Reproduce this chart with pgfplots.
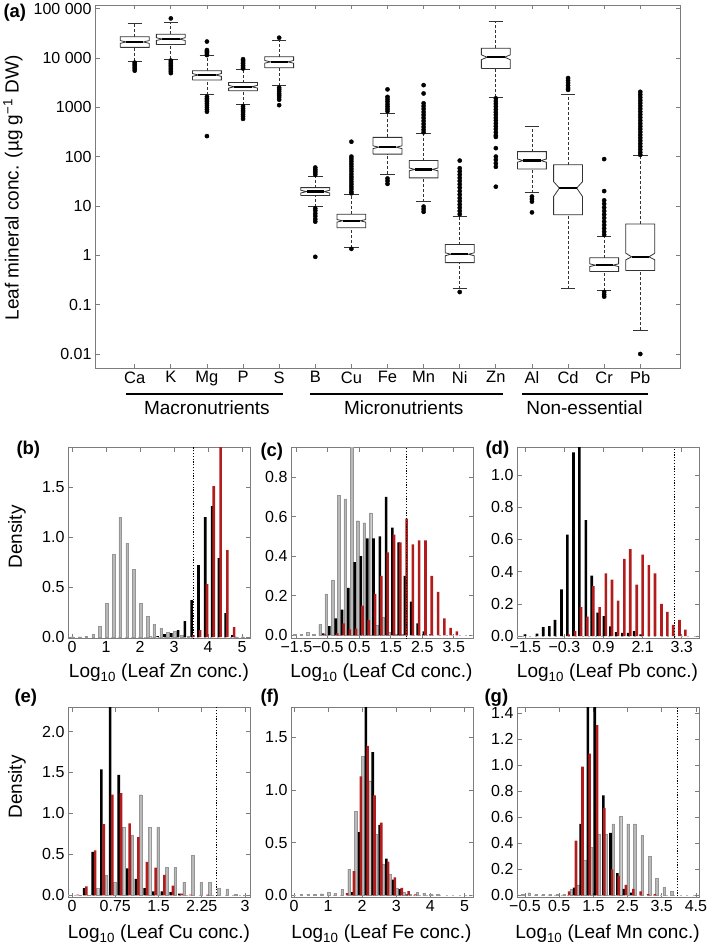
\documentclass[border=0pt]{standalone}
\usepackage{fontspec}
\setmainfont{Liberation Sans}
\usepackage{pgfplots}
\pgfplotsset{compat=1.18}

\definecolor{hgray}{RGB}{185,185,185}
\definecolor{hgrayedge}{RGB}{150,150,150}
\definecolor{hred}{RGB}{178,28,28}
\definecolor{axgray}{RGB}{125,125,125}

\pgfplotsset{
  base/.style={scale only axis, anchor=north west,
    axis line style={draw=axgray, line width=0.7pt},
    tick style={draw=axgray, line width=0.7pt},
    major tick length=4.5pt, tick align=inside,
    ticklabel style={font=\fontsize{16}{18}\selectfont},
    /pgf/number format/assume math mode=true},
  hist/.style={base, width=182pt, height=191pt},
  gbar/.style={ybar, bar width=2.6pt, bar shift=0pt, fill=hgray, draw=hgrayedge, line width=0.2pt},
  kbar/.style={ybar, bar width=2.6pt, bar shift=0pt, fill=black, draw=none},
  rbar/.style={ybar, bar width=2.6pt, bar shift=0pt, fill=hred, draw=none},
  thr/.style={black, line width=0.9pt, dash pattern=on 1.2pt off 1.6pt},
  basel/.style={gray!55, line width=0.6pt, dash pattern=on 2pt off 4.6pt},
  boxline/.style={black!80, line width=0.8pt},
}

% box: x, lower cap, q1, notch low, median, notch high, q3, upper cap
\newcommand{\bx}[8]{%
  \pgfmathsetmacro{\xa}{#1-0.4}\pgfmathsetmacro{\xb}{#1+0.4}%
  \pgfmathsetmacro{\xc}{#1-0.24}\pgfmathsetmacro{\xd}{#1+0.24}%
  \pgfmathsetmacro{\xe}{#1-0.2}\pgfmathsetmacro{\xf}{#1+0.2}%
  \addplot[boxline, dash pattern=on 3pt off 2pt] coordinates {(#1,#7) (#1,#8)};
  \addplot[boxline, dash pattern=on 3pt off 2pt] coordinates {(#1,#2) (#1,#3)};
  \addplot[boxline] coordinates {(\xe,#8) (\xf,#8)};
  \addplot[boxline] coordinates {(\xe,#2) (\xf,#2)};
  \addplot[boxline, fill=white] coordinates {(\xa,#3) (\xb,#3) (\xb,#4) (\xd,#5) (\xb,#6) (\xb,#7) (\xa,#7) (\xa,#6) (\xc,#5) (\xa,#4) (\xa,#3)};
  \addplot[black, line width=2.4pt] coordinates {(\xc,#5) (\xd,#5)};
}

\newcommand{\lab}{\fontsize{19}{21}\selectfont}
\newcommand{\panel}{\fontsize{18.5}{20}\selectfont\bfseries}

\begin{document}
\begin{tikzpicture}
\path[use as bounding box] (0,0) rectangle (709pt,-944pt);

% ---------------- (a) ----------------
\begin{axis}[base, at={(95pt,-5pt)}, width=585pt, height=363pt,
  ymode=log, xmin=-0.1, xmax=16.1, ymin=0.0052, ymax=117800,
  yminorticks=false,
  xtick={1,...,15},
  xticklabels={Ca,K,Mg,P,S,B,Cu,Fe,Mn,Ni,Zn,Al,Cd,Cr,Pb},
  xticklabel style={font=\fontsize{16.5}{18}\selectfont},
  ytick={0.01,0.1,1,10,100,1000,10000,100000},
  yticklabels={0.01,0.1,1,10,100,1000,10 000,100 000}]
\bx{1}{8500}{16300}{19700}{21000}{22400}{26700}{51000}
\bx{2}{9400}{18600}{22500}{24000}{25600}{30000}{53500}
\bx{3}{1780}{3550}{4220}{4500}{4800}{5500}{11000}
\bx{4}{1120}{2150}{2440}{2600}{2770}{3160}{5900}
\bx{5}{2750}{6300}{7800}{8300}{8850}{10500}{23000}
\bx{6}{9.7}{16.2}{18.3}{19.5}{20.8}{23.5}{39}
\bx{7}{1.43}{3.6}{4.7}{5.0}{5.3}{6.8}{17.2}
\bx{8}{44}{112}{145}{155}{165}{245}{760}
\bx{9}{12.2}{37}{51.5}{55}{58.7}{83}{295}
\bx{10}{0.21}{0.71}{0.98}{1.05}{1.12}{1.65}{6.0}
\bx{11}{1590}{6100}{9200}{10300}{11500}{15600}{54000}
\bx{12}{18.7}{56}{77}{83}{89}{126}{400}
\bx{13}{0.21}{6.6}{15.5}{23}{31}{68}{1820}
\bx{14}{0.19}{0.47}{0.59}{0.63}{0.67}{0.89}{2.4}
\bx{15}{0.030}{0.49}{0.81}{0.93}{1.1}{4.3}{105}
\addplot[only marks, mark=*, mark size=2.1pt, black] coordinates {
 (1,5500)(1,6000)(1,6500)(1,7000)(1,7500)(1,8000)
 (2,63000)(2,4900)(2,5300)(2,5700)(2,6100)(2,6600)(2,7100)(2,7600)(2,8200)(2,8800)
 (3,21400)(3,14400)(3,13600)(3,12800)(3,12000)(3,11400)
 (3,1630)(3,1500)(3,1400)(3,1300)(3,1200)(3,1100)(3,1000)(3,900)(3,810)(3,260)
 (4,9400)(4,8800)(4,8200)(4,7600)(4,7000)(4,6500)(4,6100)
 (4,1050)(4,950)(4,870)(4,800)(4,720)(4,650)(4,580)
 (5,25600)(5,2500)(5,2300)(5,2100)(5,1900)(5,1750)(5,1600)(5,1420)(5,1100)
 (6,60)(6,55)(6,51)(6,47)(6,43)(6,8.9)(6,8.0)(6,7.0)(6,6.2)(6,5.4)(6,4.8)(6,0.93)
 (7,200)(7,100)(7,90)(7,80)(7,71)(7,63)(7,56)(7,50)(7,44)(7,39)(7,35)(7,31)(7,27.5)(7,24.5)(7,22)(7,19.5)(7,18)(7,1.35)
 (8,2300)(8,1620)(8,1450)(8,1300)(8,1150)(8,1030)(8,920)(8,830)(8,36)(8,32)(8,28)
 (9,2800)(9,1900)(9,1200)(9,1050)(9,920)(9,800)(9,700)(9,610)(9,530)(9,460)(9,400)(9,350)(9,310)(9,9.7)(9,8.6)(9,7.6)
 (10,83)(10,58)(10,50)(10,43)(10,37)(10,32)(10,27.5)(10,23.5)(10,20)(10,17)(10,14.5)(10,12.5)(10,10.7)(10,9.2)(10,7.9)(10,6.8)(10,0.18)
 (11,1510)(11,1330)(11,1170)(11,1030)(11,900)(11,790)(11,700)(11,610)(11,540)(11,470)(11,410)(11,360)(11,310)(11,270)(11,250)(11,148)(11,100)(11,86)(11,73)(11,62)(11,24.5)
 (12,15.5)(12,13.8)(12,12.2)(12,7.4)
 (13,3900)(13,3500)(13,3100)(13,2750)(13,2450)(13,2250)
 (14,89)(14,20)(14,13)(14,11)(14,9.3)(14,7.9)(14,6.7)(14,5.7)(14,4.8)(14,4.1)(14,3.5)(14,3.0)(14,2.6)(14,0.18)(14,0.16)(14,0.145)
 (15,2050)(15,1800)(15,1580)(15,1380)(15,1210)(15,1060)(15,930)(15,810)(15,710)(15,620)(15,540)(15,470)(15,410)(15,360)(15,315)(15,275)(15,240)(15,210)(15,183)(15,160)(15,140)(15,122)(15,108)(15,0.01)
};
\end{axis}
\node[anchor=west, font=\panel] at (0pt,-13pt) {(a)};
\node[rotate=90, font=\lab] at (13pt,-188pt) {Leaf mineral conc. (µg g\textsuperscript{−1} DW)};
\draw[line width=1.3pt] (125.7pt,-394pt) -- (283.1pt,-394pt);
\draw[line width=1.3pt] (310.2pt,-394pt) -- (502.7pt,-394pt);
\draw[line width=1.3pt] (522.2pt,-394pt) -- (647.5pt,-394pt);
\node[font=\lab] at (206.9pt,-408pt) {Macronutrients};
\node[font=\lab] at (403.7pt,-408pt) {Micronutrients};
\node[font=\lab] at (584.4pt,-408pt) {Non-essential};

% ---------------- (b) ----------------
\begin{axis}[hist, at={(68pt,-447pt)}, xmin=-0.118, xmax=5.235, ymin=-0.01, ymax=1.90,
  xtick={0,1,2,3,4,5}, xticklabels={0,1,2,3,4,5},
  ytick={0,0.5,1,1.5}, yticklabels={0.0,0.5,1.0,1.5}]
\addplot[basel] coordinates {(-0.2,0)(5.4,0)};
\addplot[gbar] coordinates {(0.02,0.004)(0.22,0.004)(0.42,0.01)(0.62,0.03)(0.82,0.11)(1.02,0.34)(1.22,0.83)(1.42,1.20)(1.62,0.94)(1.82,0.68)(2.02,0.34)(2.22,0.21)(2.42,0.13)(2.62,0.09)(2.82,0.05)(3.02,0.06)(3.22,0.02)(3.42,0.01)(4.82,0.004)(5.02,0.004)};
\addplot[kbar] coordinates {(2.32,0.005)(2.52,0.01)(2.72,0.03)(2.92,0.04)(3.12,0.07)(3.32,0.16)(3.52,0.37)(3.72,0.72)(3.92,1.20)(4.12,1.31)(4.32,0.79)(4.52,0.24)(4.72,0.02)};
\addplot[rbar] coordinates {(3.57,0.02)(3.77,0.07)(3.97,0.53)(4.17,1.51)(4.37,2.20)(4.57,0.87)(4.77,0.10)};
\addplot[thr] coordinates {(3.56,-1)(3.56,5)};
\end{axis}

% ---------------- (c) ----------------
\begin{axis}[hist, at={(291pt,-447pt)}, xmin=-1.67, xmax=4.11, ymin=-0.014, ymax=0.953,
  xtick={-1.5,-0.5,0.5,1.5,2.5,3.5}, xticklabels={−1.5,−0.5,0.5,1.5,2.5,3.5},
  ytick={0,0.2,0.4,0.6,0.8}, yticklabels={0.0,0.2,0.4,0.6,0.8}]
\addplot[basel] coordinates {(-2,0)(4.5,0)};
\addplot[gbar] coordinates {(-1.55,0.004)(-1.35,0.004)(-1.15,0.014)(-0.95,0.004)(-0.75,0.054)(-0.55,0.21)(-0.35,0.28)(-0.15,0.71)(0.05,0.69)(0.25,1.05)(0.45,0.58)(0.65,0.57)(0.85,0.62)(1.05,0.05)(1.25,0.09)(1.45,0.015)(1.65,0.004)(1.85,0.004)};
\addplot[kbar] coordinates {(-0.65,0.01)(-0.45,0.046)(-0.25,0.085)(-0.05,0.13)(0.15,0.24)(0.35,0.37)(0.55,0.40)(0.75,0.49)(0.95,0.49)(1.15,0.50)(1.35,0.70)(1.55,0.545)(1.75,0.47)(1.95,0.30)(2.15,0.17)(2.35,0.06)(2.55,0.02)(2.75,0.005)};
\addplot[rbar] coordinates {(-0.6,0.005)(-0.2,0.01)(0.0,0.06)(0.2,0.03)(0.4,0.034)(0.6,0.15)(0.8,0.076)(1.0,0.21)(1.2,0.30)(1.4,0.42)(1.6,0.51)(1.8,0.47)(2.0,0.59)(2.2,0.46)(2.4,0.48)(2.6,0.48)(2.8,0.30)(3.0,0.22)(3.2,0.085)(3.4,0.037)(3.6,0.019)};
\addplot[thr] coordinates {(1.99,-1)(1.99,5)};
\end{axis}

% ---------------- (d) ----------------
\begin{axis}[hist, at={(517pt,-447pt)}, xmin=-1.755, xmax=3.83, ymin=-0.012, ymax=1.174,
  xtick={-1.5,-0.3,0.9,2.1,3.3}, xticklabels={−1.5,−0.3,0.9,2.1,3.3},
  ytick={0,0.2,0.4,0.6,0.8,1.0}, yticklabels={0.0,0.2,0.4,0.6,0.8,1.0}]
\addplot[basel] coordinates {(-2,0)(4,0)};
\addplot[kbar] coordinates {(-1.51,0.01)(-1.14,0.015)(-0.95,0.056)(-0.76,0.062)(-0.59,0.10)(-0.39,0.29)(-0.21,0.63)(-0.02,1.14)(0.16,1.30)(0.36,0.72)(0.54,0.375)(0.72,0.145)(0.91,0.124)(1.11,0.06)(1.29,0.025)(1.48,0.02)(1.66,0.02)(1.84,0.03)(2.04,0.01)};
\addplot[rbar] coordinates {(-0.17,0.01)(0.03,0.03)(0.21,0.18)(0.40,0.12)(0.59,0.31)(0.78,0.18)(0.97,0.39)(1.16,0.35)(1.35,0.22)(1.54,0.48)(1.72,0.54)(1.92,0.32)(2.10,0.505)(2.29,0.44)(2.48,0.39)(2.68,0.20)(2.86,0.15)(3.04,0.07)(3.23,0.10)(3.41,0.04)};
\addplot[thr] coordinates {(3.08,-1)(3.08,5)};
\end{axis}

% ---------------- (e) ----------------
\begin{axis}[hist, at={(68pt,-707pt)}, height=190pt, xmin=-0.069, xmax=3.085, ymin=-0.02, ymax=2.30,
  xtick={0,0.75,1.5,2.25,3}, xticklabels={0,0.75,1.5,2.25,3},
  ytick={0,0.5,1,1.5,2}, yticklabels={0.0,0.5,1.0,1.5,2.0}]
\addplot[basel] coordinates {(-0.2,0)(3.2,0)};
\addplot[gbar] coordinates {(0.14,0.004)(0.29,0.004)(0.44,0.09)(0.59,0.25)(0.74,0.16)(0.89,0.83)(1.04,0.74)(1.19,1.23)(1.34,0.83)(1.49,0.83)(1.64,0.34)(1.79,0.34)(1.94,0.16)(2.09,0.49)(2.24,0.16)(2.39,0.16)(2.54,0.09)(2.69,0.08)(2.84,0.01)(2.99,0.004)};
\addplot[kbar] coordinates {(0.21,0.09)(0.36,0.53)(0.51,1.54)(0.66,2.5)(0.81,1.47)(0.96,0.33)(1.11,0.20)(1.26,0.09)(1.41,0.05)(1.56,0.05)(1.71,0.04)(1.86,0.02)};
\addplot[rbar] coordinates {(0.10,0.01)(0.25,0.11)(0.40,0.55)(0.55,0.87)(0.70,1.23)(0.85,1.25)(1.00,0.88)(1.15,0.71)(1.30,0.41)(1.45,0.34)(1.60,0.25)(1.75,0.12)(1.90,0.02)(2.05,0.01)(2.35,0.01)};
\addplot[thr] coordinates {(2.5,-1)(2.5,5)};
\end{axis}

% ---------------- (f) ----------------
\begin{axis}[hist, at={(291pt,-707pt)}, height=190pt, xmin=-0.088, xmax=5.25, ymin=-0.016, ymax=1.79,
  xtick={0,1,2,3,4,5}, xticklabels={0,1,2,3,4,5},
  ytick={0,0.5,1,1.5}, yticklabels={0.0,0.5,1.0,1.5}]
\addplot[basel] coordinates {(-0.2,0)(5.4,0)};
\addplot[gbar] coordinates {(0.21,0.01)(0.41,0.01)(0.61,0.01)(0.81,0.015)(1.01,0.03)(1.21,0.02)(1.41,0.06)(1.61,0.25)(1.81,0.80)(2.01,1.32)(2.21,1.09)(2.41,0.58)(2.61,0.30)(2.81,0.20)(3.01,0.07)(3.21,0.03)(3.41,0.01)(3.61,0.03)(3.81,0.02)(4.01,0.01)(4.21,0.01)};
\addplot[kbar] coordinates {(1.71,0.03)(1.91,0.60)(2.11,1.90)(2.31,1.36)(2.51,0.67)(2.71,0.35)(2.91,0.15)(3.11,0.06)(3.31,0.01)};
\addplot[rbar] coordinates {(1.56,0.02)(1.76,0.23)(1.96,1.13)(2.16,1.42)(2.36,0.95)(2.56,0.69)(2.76,0.32)(2.96,0.17)(3.16,0.07)(3.36,0.04)(3.56,0.01)};
\end{axis}

% ---------------- (g) ----------------
\begin{axis}[hist, at={(517pt,-707pt)}, height=190pt, xmin=-0.735, xmax=4.59, ymin=-0.013, ymax=1.449,
  xtick={-0.5,0.5,1.5,2.5,3.5,4.5}, xticklabels={−0.5,0.5,1.5,2.5,3.5,4.5},
  ytick={0,0.2,0.4,0.6,0.8,1.0,1.2,1.4}, yticklabels={0.0,0.2,0.4,0.6,0.8,1.0,1.2,1.4}]
\addplot[basel] coordinates {(-1,0)(5,0)};
\addplot[gbar] coordinates {(-0.58,0.01)(-0.38,0.02)(-0.18,0.01)(0.03,0.01)(0.23,0.01)(0.44,0.01)(0.64,0.01)(0.85,0.05)(1.04,0.08)(1.24,0.27)(1.43,0.37)(1.65,0.47)(1.86,0.47)(2.08,0.55)(2.29,0.61)(2.51,0.55)(2.71,0.55)(2.93,0.46)(3.15,0.30)(3.35,0.13)(3.57,0.06)(3.79,0.03)};
\addplot[kbar] coordinates {(0.94,0.06)(1.13,0.55)(1.34,1.60)(1.54,1.60)(1.79,0.77)(2.00,0.48)(2.20,0.17)(2.39,0.05)(2.61,0.02)};
\addplot[rbar] coordinates {(0.79,0.03)(0.99,0.42)(1.18,0.99)(1.39,1.09)(1.61,1.31)(1.82,0.67)(2.05,0.20)(2.24,0.15)(2.45,0.08)(2.67,0.05)(2.88,0.03)(3.10,0.01)(3.30,0.01)};
\addplot[thr] coordinates {(3.96,-1)(3.96,5)};
\end{axis}

% panel letters and labels
\node[anchor=west, font=\panel] at (13pt,-450pt) {(b)};
\node[anchor=west, font=\panel] at (257pt,-452pt) {(c)};
\node[anchor=west, font=\panel] at (482pt,-450pt) {(d)};
\node[anchor=west, font=\panel] at (11pt,-698pt) {(e)};
\node[anchor=west, font=\panel] at (257pt,-698pt) {(f)};
\node[anchor=west, font=\panel] at (481pt,-698pt) {(g)};
\node[rotate=90, font=\lab] at (17pt,-537pt) {Density};
\node[rotate=90, font=\lab] at (17pt,-787pt) {Density};
\node[font=\lab] at (159pt,-673pt) {Log\textsubscript{10} (Leaf Zn conc.)};
\node[font=\lab] at (381.5pt,-673pt) {Log\textsubscript{10} (Leaf Cd conc.)};
\node[font=\lab] at (607.5pt,-673pt) {Log\textsubscript{10} (Leaf Pb conc.)};
\node[font=\lab] at (159pt,-934pt) {Log\textsubscript{10} (Leaf Cu conc.)};
\node[font=\lab] at (381.5pt,-934pt) {Log\textsubscript{10} (Leaf Fe conc.)};
\node[font=\lab] at (607.5pt,-934pt) {Log\textsubscript{10} (Leaf Mn conc.)};
\end{tikzpicture}
\end{document}
